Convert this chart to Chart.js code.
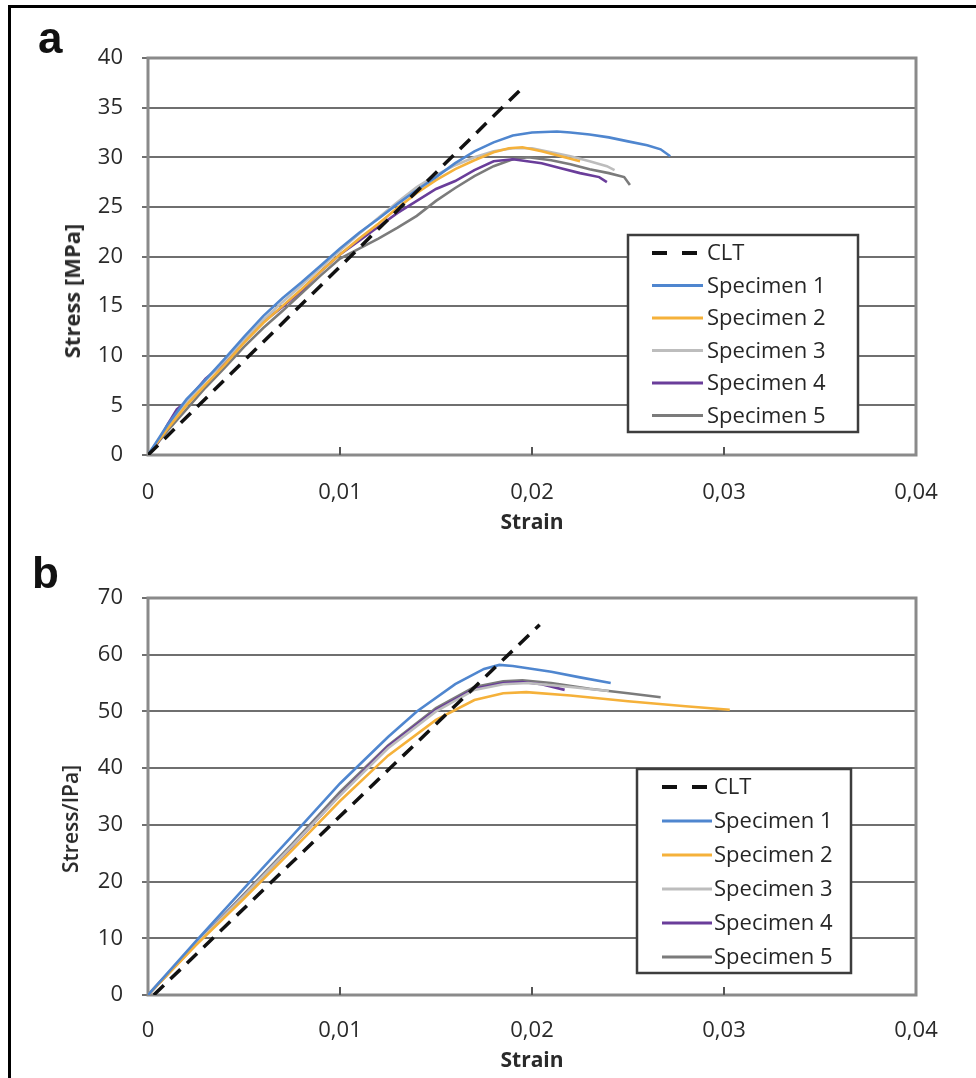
<!DOCTYPE html>
<html>
<head>
<meta charset="utf-8">
<script src="https://cdn.jsdelivr.net/npm/chart.js@4/dist/chart.umd.min.js"></script>
<style>
  html, body { margin: 0; padding: 0; background: #fff; }
  #page { position: relative; width: 976px; height: 1078px; overflow: hidden; background: #fff; }
  canvas { position: absolute; left: 0; }
  .frameTop { position: absolute; left: 8px; top: 5px; width: 968px; height: 3px; background: #000; }
  .frameLeft { position: absolute; left: 8px; top: 5px; width: 3px; height: 1073px; background: #000; }
  .panel { position: absolute; font-family: "Liberation Sans", Arial, sans-serif; font-weight: bold; font-size: 44px; line-height: 44px; color: #111; }
  .ytitle { position: absolute; font-family: "Open Sans", sans-serif; color: #2a2a2a; white-space: nowrap; transform: translate(-50%, -50%) rotate(-90deg); }
</style>
</head>
<body>
<div id="page">
  <div class="frameTop"></div>
  <div class="frameLeft"></div>
  <canvas id="chartA" width="976" height="545" style="top:0px"></canvas>
  <canvas id="chartB" width="976" height="533" style="top:545px"></canvas>
  <div class="panel" style="left:38px; top:16px;">a</div>
  <div class="panel" style="left:32px; top:551px;">b</div>
  <div class="ytitle" style="left:71px; top:291px; font-size:22px; font-weight:700;">Stress [MPa]</div>
  <div class="ytitle" style="left:70px; top:819px; font-size:21px; font-weight:600;">Stress/IPa]</div>
</div>
<script>
// ---------- DATA ----------
const seriesLabels = ['CLT', 'Specimen 1', 'Specimen 2', 'Specimen 3', 'Specimen 4', 'Specimen 5'];
const strainTickLabels = ['0', '0,01', '0,02', '0,03', '0,04'];
const stressTicksA = [0, 5, 10, 15, 20, 25, 30, 35, 40];
const stressTicksB = [0, 10, 20, 30, 40, 50, 60, 70];

// panel a : [strain, stress MPa]
const cltA = [[0, 0], [0.0195, 37]];
const spec1A = [[0,0],[0.0005,1.5],[0.001,3],[0.002,5.6],[0.003,7.6],[0.004,9.7],[0.005,11.9],[0.006,14],[0.007,15.8],[0.008,17.4],[0.009,19.1],[0.01,20.8],[0.011,22.4],[0.012,23.8],[0.013,25.3],[0.014,26.7],[0.015,28],[0.016,29.4],[0.017,30.6],[0.018,31.5],[0.019,32.2],[0.02,32.5],[0.0213,32.6],[0.022,32.5],[0.023,32.3],[0.024,32],[0.025,31.6],[0.026,31.2],[0.0267,30.8],[0.0272,30.1]];
const spec2A = [[0,0],[0.001,2.6],[0.002,5],[0.003,7.1],[0.004,9.1],[0.005,11.3],[0.006,13.3],[0.007,15],[0.008,16.7],[0.009,18.5],[0.01,20.2],[0.011,21.8],[0.012,23.3],[0.013,24.9],[0.014,26.4],[0.015,27.7],[0.016,28.8],[0.017,29.7],[0.018,30.5],[0.0188,30.9],[0.0195,31],[0.0205,30.6],[0.0215,30.1],[0.0225,29.6]];
const spec3A = [[0,0],[0.001,2.8],[0.002,5.3],[0.003,7.5],[0.004,9.5],[0.005,11.6],[0.006,13.6],[0.007,15.4],[0.008,17.1],[0.009,18.9],[0.01,20.6],[0.011,22.3],[0.012,23.9],[0.013,25.5],[0.014,27],[0.015,28.2],[0.016,29.2],[0.017,30],[0.018,30.6],[0.019,30.9],[0.02,30.9],[0.021,30.5],[0.022,30.1],[0.023,29.6],[0.0239,29.1],[0.0243,28.7]];
const spec4A = [[0,0],[0.0005,1.2],[0.001,3],[0.0015,4.6],[0.002,5.4],[0.003,7.7],[0.004,9.3],[0.005,11.5],[0.006,13.4],[0.007,14.9],[0.008,16.6],[0.009,18.5],[0.01,20.2],[0.011,21.6],[0.012,23],[0.013,24.4],[0.014,25.6],[0.015,26.8],[0.016,27.6],[0.017,28.7],[0.018,29.6],[0.019,29.8],[0.0205,29.4],[0.0215,28.9],[0.0225,28.4],[0.0235,28],[0.0239,27.5]];
const spec5A = [[0,0],[0.001,2.4],[0.002,4.6],[0.003,6.8],[0.004,8.8],[0.005,10.9],[0.006,12.8],[0.007,14.5],[0.008,16.3],[0.009,18.1],[0.01,19.8],[0.011,20.8],[0.012,21.8],[0.013,22.9],[0.014,24.1],[0.015,25.6],[0.016,26.9],[0.017,28.1],[0.018,29.1],[0.019,29.8],[0.0198,30],[0.021,29.7],[0.022,29.3],[0.023,28.8],[0.024,28.4],[0.0248,28],[0.0251,27.2]];

// panel b : [strain, stress]
const cltB = [[0.0003, 0], [0.0204, 65.3]];
const spec1B = [[0,0],[0.0025,9.5],[0.005,18.8],[0.0075,28],[0.01,37.3],[0.0125,45.5],[0.014,50],[0.016,54.8],[0.0175,57.5],[0.0183,58.2],[0.019,58],[0.021,57],[0.0225,56],[0.0241,55]];
const spec2B = [[0,0],[0.0025,8.8],[0.005,17],[0.0075,25.5],[0.01,34.2],[0.0125,42.2],[0.015,48.5],[0.017,52],[0.0185,53.2],[0.0197,53.4],[0.022,52.8],[0.025,51.8],[0.028,50.9],[0.0303,50.3]];
const spec3B = [[0,0],[0.0025,9],[0.005,17.5],[0.0075,26.3],[0.01,35.2],[0.0125,43.5],[0.015,50],[0.017,53.8],[0.0185,54.8],[0.0198,55],[0.022,54.3],[0.024,53.6]];
const spec4B = [[0,0],[0.0025,9],[0.005,17.5],[0.0075,26.2],[0.01,35.3],[0.0125,43.8],[0.015,50.3],[0.017,54],[0.0185,55],[0.0195,55.2],[0.0205,54.8],[0.0217,53.8]];
const spec5B = [[0,0],[0.0025,9.1],[0.005,17.8],[0.0075,26.6],[0.01,35.8],[0.0125,44],[0.015,50.6],[0.017,54.3],[0.0185,55.3],[0.0195,55.5],[0.021,55],[0.023,54],[0.025,53.2],[0.0267,52.5]];

// ---------- STYLE ----------
const seriesColors = ['#111111', '#4f86cf', '#f5b13a', '#bdbdbd', '#6a3d9a', '#7b7b7b'];
const FONT = '"Open Sans", sans-serif';
const GRID = '#6f6f6f';

function toXY(arr) { return arr.map(p => ({x: p[0], y: p[1]})); }

function makeDatasets(series) {
  return series.map((s, i) => ({
    label: seriesLabels[i],
    data: toXY(s),
    borderColor: seriesColors[i],
    backgroundColor: seriesColors[i],
    borderWidth: i === 0 ? 3.5 : 2.6,
    borderDash: i === 0 ? [14, 9] : [],
    pointRadius: 0,
    tension: 0,
    fill: false
  }));
}

const framePlugin = {
  id: 'frameTicks',
  beforeDatasetsDraw(chart) {
    const {ctx, chartArea: a, scales: {x}} = chart;
    ctx.save();
    ctx.strokeStyle = '#8a8a8a';
    ctx.lineWidth = 3;
    ctx.strokeRect(a.left, a.top, a.right - a.left, a.bottom - a.top);
    ctx.strokeStyle = '#555';
    ctx.lineWidth = 2;
    x.ticks.forEach(t => {
      const px = x.getPixelForValue(t.value);
      if (px > a.left + 2 && px < a.right - 2) {
        ctx.beginPath();
        ctx.moveTo(px, a.bottom);
        ctx.lineTo(px, a.bottom - 8);
        ctx.stroke();
      }
    });
    ctx.restore();
  }
};

const boxLegend = {
  id: 'boxLegend',
  afterDraw(chart, args, o) {
    const ctx = chart.ctx;
    ctx.save();
    ctx.fillStyle = '#fff';
    ctx.fillRect(o.x, o.y, o.w, o.h);
    ctx.strokeStyle = '#3d3d3d';
    ctx.lineWidth = 2.5;
    ctx.strokeRect(o.x, o.y, o.w, o.h);
    ctx.font = '22px ' + FONT;
    ctx.textBaseline = 'middle';
    ctx.textAlign = 'left';
    chart.data.datasets.forEach((ds, i) => {
      const cy = o.y + o.first + i * o.row;
      ctx.beginPath();
      ctx.strokeStyle = ds.borderColor;
      ctx.lineWidth = i === 0 ? 4 : 3;
      ctx.setLineDash(i === 0 ? [15, 15] : []);
      ctx.moveTo(o.lx0, cy);
      ctx.lineTo(o.lx1, cy);
      ctx.stroke();
      ctx.setLineDash([]);
      ctx.fillStyle = '#262626';
      ctx.fillText(ds.label, o.tx, cy + 1);
    });
    ctx.restore();
  }
};

function makeChart(id, series, yMax, yStep, cfg) {
  return new Chart(document.getElementById(id), {
    type: 'line',
    data: { datasets: makeDatasets(series) },
    plugins: [framePlugin, boxLegend],
    options: {
      responsive: false,
      animation: false,
      devicePixelRatio: 1,
      layout: { padding: { left: 0, right: 60, top: cfg.padTop, bottom: cfg.padBottom } },
      plugins: {
        legend: { display: false },
        tooltip: { enabled: false },
        boxLegend: cfg.legend
      },
      scales: {
        x: {
          type: 'linear', min: 0, max: 0.04,
          afterFit: s => { s.height = cfg.xHeight; },
          afterBuildTicks: s => { s.ticks = [0, 0.01, 0.02, 0.03, 0.04].map(v => ({value: v})); },
          grid: { display: false, drawTicks: false },
          border: { display: false },
          ticks: {
            padding: cfg.xTickPad, color: '#2a2a2a', font: { family: FONT, size: 22 },
            maxRotation: 0, autoSkip: false,
            callback: (v, i) => strainTickLabels[i]
          },
          title: { display: true, text: 'Strain', color: '#2a2a2a', font: { family: FONT, size: 21, weight: 'bold' }, padding: { top: 0, bottom: cfg.titlePad } }
        },
        y: {
          type: 'linear', min: 0, max: yMax,
          afterFit: s => { s.width = 148; },
          grid: { color: GRID, lineWidth: 2, tickLength: 6, drawTicks: true },
          border: { display: false },
          ticks: { stepSize: yStep, padding: 19, color: '#2a2a2a', font: { family: FONT, size: 22 } }
        }
      }
    }
  });
}

makeChart('chartA', [cltA, spec1A, spec2A, spec3A, spec4A, spec5A], 40, 5, {
  padTop: 58, padBottom: 5, xHeight: 85, xTickPad: 25, titlePad: 4,
  legend: { x: 628, y: 235, w: 230, h: 197, first: 18, row: 32.5, lx0: 652, lx1: 703, tx: 707 }
});
makeChart('chartB', [cltB, spec1B, spec2B, spec3B, spec4B, spec5B], 70, 10, {
  padTop: 53, padBottom: 3, xHeight: 80, xTickPad: 23, titlePad: 1,
  legend: { x: 637, y: 224, w: 214, h: 204, first: 18, row: 34, lx0: 662, lx1: 712, tx: 714 }
});
</script>
</body>
</html>
